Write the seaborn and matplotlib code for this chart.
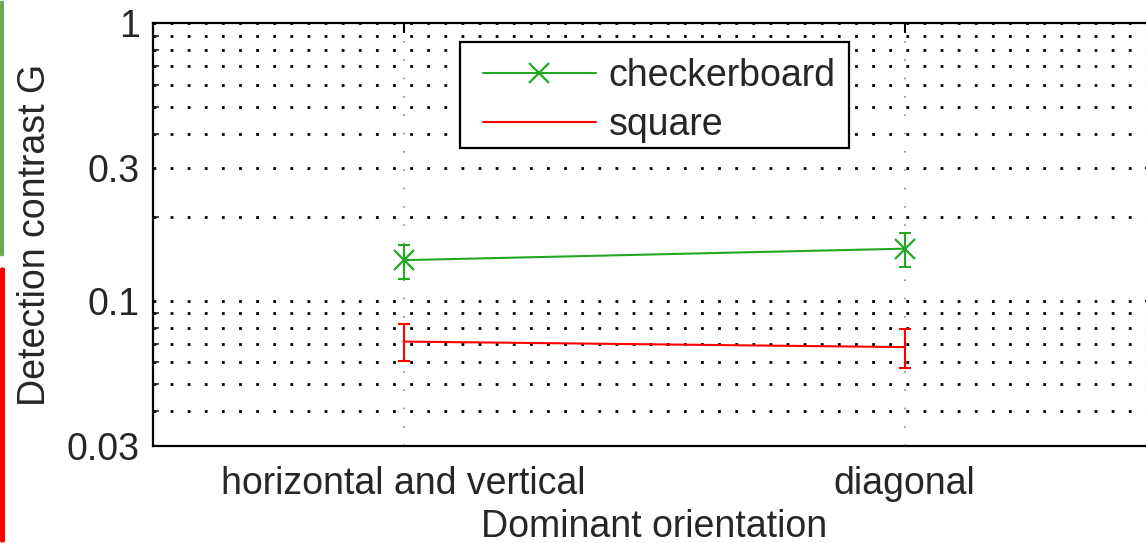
import numpy as np
import pandas as pd
import matplotlib
matplotlib.use("Agg")
import matplotlib.pyplot as plt
import matplotlib.ticker as mticker
from matplotlib.lines import Line2D
from matplotlib.patches import FancyBboxPatch, Rectangle
import seaborn as sns

# Detection thresholds per dominant orientation
orientations = ["horizontal and vertical", "diagonal"]
checker_mean = [0.140, 0.154]
checker_lo = [0.120, 0.132]
checker_hi = [0.159, 0.176]
square_mean = [0.0713, 0.0681]
square_lo = [0.0605, 0.0571]
square_hi = [0.0822, 0.0794]
y_ticks = [0.03, 0.1, 0.3, 1]
y_tick_labels = ["0.03", "0.1", "0.3", "1"]

GREEN = "#22a822"
RED = "#ff0000"

sns.set_style("white")
plt.rcParams["font.family"] = ["Liberation Sans", "DejaVu Sans"]
plt.rcParams["font.size"] = 27

pos = np.arange(1, len(orientations) + 1)
df = pd.DataFrame({
    "pos": np.concatenate([pos, pos]),
    "G": checker_mean + square_mean,
    "stimulus": ["checkerboard"] * len(pos) + ["square"] * len(pos),
})

W, H = 1146, 543
fig = plt.figure(figsize=(W / 100, H / 100), dpi=100)
ax = fig.add_axes([153 / W, 97 / H, 1002 / W, 423 / H])

sns.lineplot(data=df[df.stimulus == "checkerboard"], x="pos", y="G", ax=ax,
             color=GREEN, lw=1.5, marker="x", markersize=14, mew=1.6,
             markeredgecolor=GREEN, legend=False, zorder=4)
sns.lineplot(data=df[df.stimulus == "square"], x="pos", y="G", ax=ax,
             color=RED, lw=1.5, legend=False, zorder=4)

ax.errorbar(pos, checker_mean,
            yerr=[np.array(checker_mean) - np.array(checker_lo),
                  np.array(checker_hi) - np.array(checker_mean)],
            fmt="none", ecolor=GREEN, elinewidth=1.5, capsize=4, capthick=1.5, zorder=4)
ax.errorbar(pos, square_mean,
            yerr=[np.array(square_mean) - np.array(square_lo),
                  np.array(square_hi) - np.array(square_mean)],
            fmt="none", ecolor=RED, elinewidth=1.5, capsize=4.5, capthick=1.5, zorder=4)

ax.set_yscale("log")
ax.set_ylim(0.03, 1)
ax.set_xlim(0.5, 2.5)
ax.yaxis.set_major_locator(mticker.FixedLocator(y_ticks))
ax.yaxis.set_major_formatter(mticker.FixedFormatter(y_tick_labels))
ax.yaxis.set_minor_locator(mticker.LogLocator(base=10, subs=np.arange(2, 10)))
ax.yaxis.set_minor_formatter(mticker.NullFormatter())
ax.set_xticks(pos)
ax.set_xticklabels(orientations)

ax.yaxis.grid(True, which="both", color="black", linestyle=(0, (1, 5.16)), lw=2.0)
ax.xaxis.grid(True, which="major", color="0.55", linestyle=(0, (1, 10)), lw=1.2)
ax.set_axisbelow(True)

ax.tick_params(axis="both", which="major", direction="in", length=7, width=1.5,
               top=True, right=True, labelsize=27, color="black")
ax.tick_params(axis="y", which="major", pad=9.4)
ax.tick_params(axis="x", which="major", pad=14.5)
ax.tick_params(axis="y", which="minor", direction="in", length=4, width=1.2,
               left=True, right=True)
for s in ax.spines.values():
    s.set_color("black")
    s.set_linewidth(1.6)

ax.set_xlabel("Dominant orientation", fontsize=27, labelpad=5)
ax.set_ylabel("Detection contrast G", fontsize=27, labelpad=10)

# Legend box drawn as its own rectangle, entries placed inside it
box = Rectangle(((460 - 153) / 1002, (446 - 148) / 423), 389 / 1002, 106 / 423,
                transform=ax.transAxes, facecolor="white", edgecolor="black",
                lw=1.6, zorder=4.5)
ax.add_patch(box)

handles = [
    Line2D([], [], color=GREEN, lw=1.5, marker="x", markersize=14, mew=1.6),
    Line2D([], [], color=RED, lw=1.5),
]
leg = ax.legend(handles, ["checkerboard", "square"], loc="upper left",
                bbox_to_anchor=((483 - 153) / 1002, (446 - 58) / 423),
                borderaxespad=0, frameon=False, handlelength=3.0,
                handletextpad=0.35, borderpad=0, labelspacing=0.35, fontsize=27)
leg.set_zorder(6)

# Colored markers along the left margin
fig.patches.append(FancyBboxPatch((0, 286 / H), 4 / W, 257 / H,
                                  boxstyle="round,pad=0,rounding_size=0.004",
                                  transform=fig.transFigure, facecolor="#6aaa55",
                                  edgecolor="none"))
fig.patches.append(FancyBboxPatch((0, 0), 5 / W, 276 / H,
                                  boxstyle="round,pad=0,rounding_size=0.004",
                                  transform=fig.transFigure, facecolor=RED,
                                  edgecolor="none"))

fig.savefig("out.png", dpi=100)
